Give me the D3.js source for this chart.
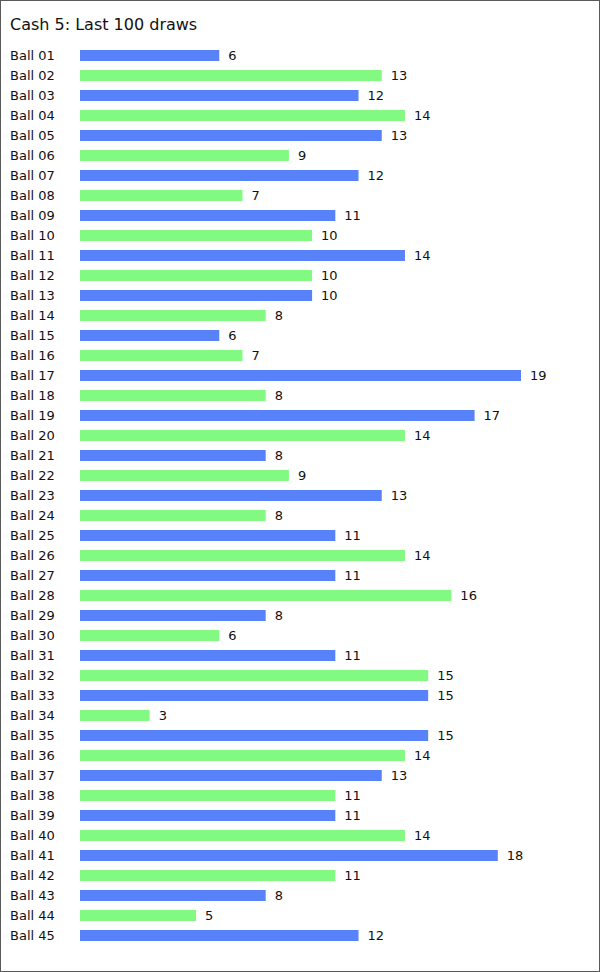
<!DOCTYPE html>
<html>
<head>
<meta charset="utf-8">
<script src="https://cdn.jsdelivr.net/npm/d3@7"></script>
<style>
  body { margin: 0; background: #fff; }
  svg { display: block; font-family: "DejaVu Sans", Verdana, sans-serif; }
</style>
</head>
<body>
<div id="chart"></div>
<script>
// ball numbers and how often each came up in the last 100 draws
const balls = ["01","02","03","04","05","06","07","08","09","10","11","12","13","14","15",
  "16","17","18","19","20","21","22","23","24","25","26","27","28","29","30",
  "31","32","33","34","35","36","37","38","39","40","41","42","43","44","45"];
const counts = [6,13,12,14,13,9,12,7,11,10,14,10,10,8,6,
  7,19,8,17,14,8,9,13,8,11,14,11,16,8,6,
  11,15,15,3,15,14,13,11,11,14,18,11,8,5,12];
const title = "Cash 5: Last 100 draws";

const data = balls.map((b, i) => ({ name: "Ball " + b, value: counts[i] }));

const W = 600, H = 972;
const svg = d3.select("#chart").append("svg")
  .attr("width", W)
  .attr("height", H);

// frame
svg.append("rect")
  .attr("x", 0.5).attr("y", 0.5)
  .attr("width", W - 1).attr("height", H - 1)
  .attr("fill", "#fff")
  .attr("stroke", "#5a5a5a");

svg.append("text")
  .attr("x", 10).attr("y", 30)
  .attr("font-size", 16)
  .attr("fill", "#111")
  .text(title);

let x = d3.scaleLinear().domain([0, 19]).range([80, 521]);
// 20px per row, 11px bars
let y = d3.scaleBand()
  .domain(data.map(d => d.name))
  .range([45.5, 45.5 + data.length * 20])
  .paddingInner(0.45).paddingOuter(0.225);

var rows = svg.selectAll(".row")
  .data(data)
  .enter().append("g")
  .attr("class", "row");

rows.append("text")
  .attr("x", 10)
  .attr("y", d => y(d.name) + 10)
  .attr("font-size", 13)
  .attr("fill", "#111")
  .text(d => d.name);

rows.append("rect")
  .attr("x", x(0))
  .attr("y", d => y(d.name))
  .attr("width", d => x(d.value) - x(0))
  .attr("height", y.bandwidth())
  .attr("fill", (d, i) => i % 2 === 0 ? "#5882fa" : "#82fa82");

rows.append("text")
  .attr("x", d => x(d.value) + 9)
  .attr("y", d => y(d.name) + 10)
  .attr("font-size", 13)
  .attr("fill", "#111")
  .text(d => d.value);
</script>
</body>
</html>
